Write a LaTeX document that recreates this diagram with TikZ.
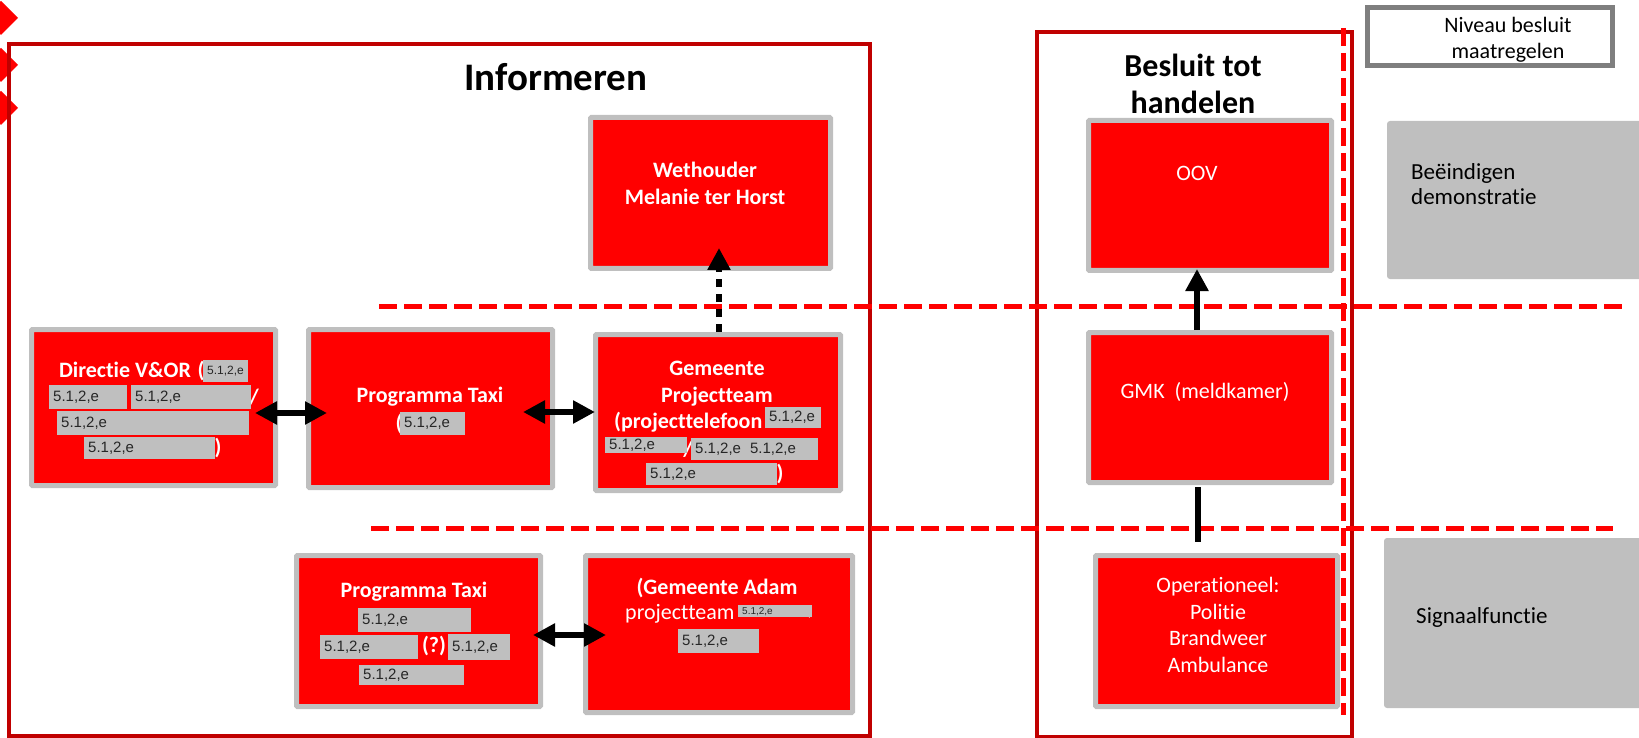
\documentclass[tikz,border=0pt]{standalone}
\usepackage{fontspec}
\setmainfont{Carlito}[Ligatures={NoCommon}]
\newfontfamily\arialfont{Liberation Sans}
\usetikzlibrary{arrows.meta}
\definecolor{boxred}{HTML}{FF0000}
\definecolor{framered}{HTML}{C00000}
\definecolor{redactgray}{HTML}{BFBFBF}
\definecolor{legendgray}{HTML}{7F7F7F}
\tikzset{>={Triangle[length=22pt,width=22pt]}}
\tikzset{
  orgbox/.style={draw=redactgray,line width=5pt,fill=boxred,inner sep=0pt,rounded corners=1pt},
  sidebox/.style={fill=redactgray,inner sep=0pt,rounded corners=3pt},
  boxtext/.style={text=white,inner sep=0pt,align=center,font=\fontsize{22}{27}\selectfont\bfseries},
  plaintext/.style={text=white,inner sep=0pt,align=center,font=\fontsize{22}{26.7}\selectfont},
  sidetext/.style={inner sep=0pt,font=\fontsize{23}{25}\selectfont},
  redact/.style={fill=redactgray,anchor=north west,inner xsep=4pt,inner ysep=0pt,align=left,
    text=black!85,font=\arialfont\fontsize{15}{15}\selectfont},
  frame/.style={draw=framered,line width=4pt},
  levelline/.style={draw=boxred,line width=5pt,dash pattern=on 18pt off 7pt},
  link/.style={line width=6pt}
}

\begin{document}
\begin{tikzpicture}[x=1pt,y=-1pt]
\useasboundingbox (0,0) rectangle (1639,738);

% markers at the left edge
\foreach \y in {18,65,108}
  \fill[boxred] (-16,\y) -- (1,\y-17) -- (18,\y) -- (1,\y+17) -- cycle;

\draw[frame] (9,44) rectangle (870,736);
\draw[frame] (1037,32) rectangle (1352,737);

\draw[levelline] (379,306) -- (1622,306);
\draw[levelline] (371,528) -- (1613,528);
\draw[levelline] (1343,28) -- (1343,715);

\node[inner sep=0pt,font=\fontsize{39}{39}\selectfont\bfseries] (informeren) at (556,77) {Informeren};
\node[inner sep=0pt,align=center,font=\fontsize{32}{37}\selectfont\bfseries] (besluit) at (1193,83.5) {Besluit tot\\handelen};

% informeren
\node[orgbox,minimum width=240,minimum height=151] (wethouder) at (710.5,193) {};
\node[orgbox,minimum width=244,minimum height=156] (directie) at (153.5,407.5) {};
\node[orgbox,minimum width=244,minimum height=158] (taxi) at (430.5,408.5) {};
\node[orgbox,minimum width=245,minimum height=156] (gemeente) at (718,412.5) {};
\node[orgbox,minimum width=244,minimum height=151] (taxibis) at (418.5,631) {};
\node[orgbox,minimum width=267,minimum height=157] (adam) at (719,634) {};

\node[boxtext] (t-wethouder) at (705,183.5) {Wethouder\\Melanie ter Horst};
\node[boxtext] (t-directie) at (125,370) {Directie V\&OR};
\node[boxtext] (p-directie1) at (201,371) {(};
\node[boxtext] (p-directie2) at (254,397) {/};
\node[boxtext] (p-directie3) at (218,448) {)};
\node[boxtext] (t-taxi) at (430,397) {Programma Taxi};
\node[boxtext] (p-taxi) at (399,424) {(};
\node[boxtext] (t-gemeente) at (717,384) {Gemeente\\Projectteam};
\node[boxtext,anchor=west] (t-telefoon) at (614,422) {(projecttelefoon};
\node[boxtext] (p-gemeente1) at (688,449) {/};
\node[boxtext] (p-gemeente2) at (780,474) {)};
\node[boxtext] (t-taxibis) at (414,592) {Programma Taxi};
\node[boxtext] (p-taxibis) at (434,646) {(?)};
\node[boxtext] (t-adam) at (717,588) {(Gemeente Adam};
\node[plaintext,anchor=west] (t-adambis) at (625,614) {projectteam};
\node[plaintext] (p-adam) at (810,616) {,};

% redacted parts
\node[redact,text width=37,minimum height=22,font=\arialfont\fontsize{12}{12}\selectfont] (r1) at (203,360) {5.1,2,e};
\node[redact,text width=70,minimum height=24] (r2) at (49,385) {5.1,2,e};
\node[redact,text width=112,minimum height=24] (r3) at (131,385) {5.1,2,e};
\node[redact,text width=184,minimum height=24] (r4) at (57,411) {5.1,2,e};
\node[redact,text width=123,minimum height=22] (r5) at (84,437) {5.1,2,e};
\node[redact,text width=57,minimum height=23] (r6) at (400,412) {5.1,2,e};
\node[redact,text width=48,minimum height=21] (r7) at (765,407) {5.1,2,e};
\node[redact,text width=74,minimum height=16] (r8) at (605,437) {5.1,2,e};
\node[redact,text width=119,minimum height=22] (r9) at (691,438) {5.1,2,e\hspace{9pt}5.1,2,e};
\node[redact,text width=123,minimum height=22] (r10) at (646,463) {5.1,2,e};
\node[redact,text width=105,minimum height=24] (r11) at (358,608) {5.1,2,e};
\node[redact,text width=90,minimum height=24] (r12) at (320,635) {5.1,2,e};
\node[redact,text width=54,minimum height=26] (r13) at (448,634) {5.1,2,e};
\node[redact,text width=97,minimum height=20] (r14) at (359,665) {5.1,2,e};
\node[redact,text width=66,minimum height=12,font=\arialfont\fontsize{10}{10}\selectfont] (r15) at (738,605) {5.1,2,e};
\node[redact,text width=73,minimum height=24] (r16) at (678,629) {5.1,2,e};

% besluit tot handelen
\node[orgbox,minimum width=243,minimum height=150] (oov) at (1210,195.5) {};
\node[orgbox,minimum width=243,minimum height=150] (gmk) at (1210,407.5) {};
\node[orgbox,minimum width=242,minimum height=151] (operationeel) at (1216.5,631) {};
\node[plaintext] (t-oov) at (1197,173) {OOV};
\node[plaintext] (t-gmk) at (1205,392) {GMK\ \ (meldkamer)};
\node[plaintext] (t-operationeel) at (1218,625) {Operationeel:\\Politie\\Brandweer\\Ambulance};

% niveau
\node[draw=legendgray,line width=5pt,fill=white,minimum width=245,minimum height=58] (niveau) at (1490,36.5) {};
\node[inner sep=0pt,align=center,font=\fontsize{22}{26}\selectfont] (t-niveau) at (1508,40) {Niveau besluit\\maatregelen};
\node[sidebox,minimum width=263,minimum height=158] (beeindigen) at (1518.5,200) {};
\node[sidetext,anchor=west,align=left] (t-beeindigen) at (1411,184.5) {Beëindigen\\demonstratie};
\node[sidebox,minimum width=266,minimum height=170] (signaal) at (1517,623) {};
\node[sidetext,anchor=west] (t-signaal) at (1416,617) {Signaalfunctie};

% connectors
\draw[link,<->,shorten <=-23pt,shorten >=-21pt] ([yshift=-5.5pt]directie.east) -- ([yshift=-5.5pt]directie.east -| taxi.west);
\draw[link,<->,shorten <=-32pt,shorten >=-2pt] ([yshift=-3.5pt]taxi.east) -- ([yshift=-3.5pt]taxi.east -| gemeente.west);
\draw[link,<->,shorten <=-10pt,shorten >=-23pt] ([yshift=-4pt]taxibis.east) -- ([yshift=-4pt]taxibis.east -| adam.west);
\draw[link,->,dash pattern=on 8pt off 7pt,shorten >=-23pt] ([xshift=1pt]gemeente.north) -- ([xshift=1pt]gemeente.north |- wethouder.south);
\draw[link,->,shorten >=-4pt] ([xshift=-13pt]gmk.north) -- ([xshift=-13pt]gmk.north |- oov.south);
\draw[link,shorten <=2pt,shorten >=11pt] ([xshift=-12pt]gmk.south) -- ([xshift=-12pt]gmk.south |- operationeel.north);
\end{tikzpicture}
\end{document}
